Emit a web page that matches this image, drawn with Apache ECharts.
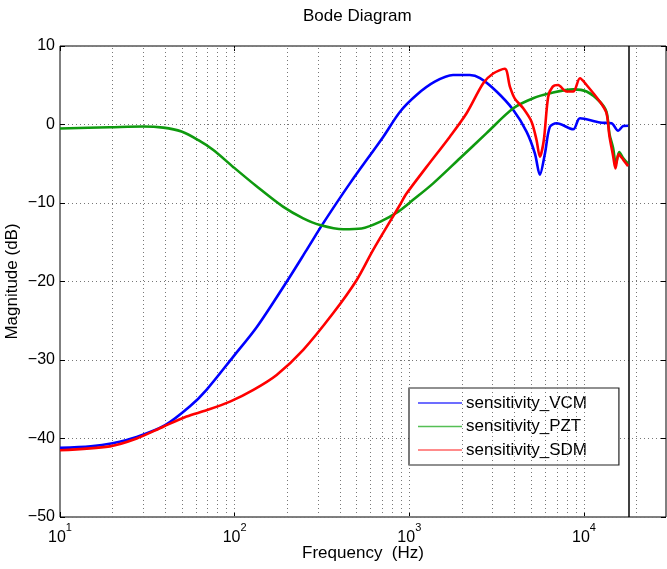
<!DOCTYPE html>
<html>
<head>
<meta charset="utf-8">
<title>Bode Diagram</title>
<script src="https://cdn.jsdelivr.net/npm/echarts@6/dist/echarts.min.js"></script>
<style>
  html, body { margin: 0; padding: 0; background: #fff; }
  #chart { width: 667px; height: 569px; }
</style>
</head>
<body>
<div id="chart"></div>
<script>
// Sensitivity magnitude responses (Hz, dB)
const freqVCM = [10, 15, 20, 27.5, 40, 55.5, 69, 98, 134, 199, 258, 321, 457, 710, 883, 1100, 1400, 1780, 2220, 2540, 3160, 3940, 4690, 5240, 5590, 5980, 6380, 6970, 8680, 9490, 12340, 14390, 15700, 16780, 17920];
const magVCM  = [-41.2, -41.0, -40.6, -39.8, -38.3, -35.9, -33.8, -29.6, -25.8, -20.0, -16.0, -12.6, -7.5, -1.55, 1.6, 3.76, 5.45, 6.3, 6.3, 5.9, 4.2, 1.85, -0.9, -3.7, -6.4, -3.7, -0.3, 0.15, -0.6, 0.8, 0.25, 0.15, -0.8, -0.2, -0.15];

const freqPZT = [10, 19.3, 30, 39, 49.6, 62, 75.5, 98, 134, 190, 247, 308, 418, 533, 679, 865, 1052, 1370, 1950, 2770, 3940, 5120, 6380, 8680, 10350, 12340, 13460, 14000, 14690, 15240, 15920, 16800, 17900];
const magPZT  = [-0.5, -0.35, -0.25, -0.4, -0.9, -2.0, -3.25, -5.4, -7.9, -10.5, -11.95, -12.8, -13.35, -13.25, -12.4, -11.1, -9.6, -7.5, -4.3, -1.1, 2.06, 3.34, 3.97, 4.48, 4.2, 2.9, 1.6, -1.2, -3.0, -5.0, -3.5, -4.3, -5.0];

const freqSDM = [10, 19.3, 27.5, 39, 53, 69, 94, 128, 174, 247, 366, 500, 620, 883, 964, 1256, 1707, 2128, 2650, 3020, 3520, 3770, 4020, 4490, 5010, 5355, 5590, 5890, 6240, 6610, 7110, 7940, 8680, 9490, 10350, 12340, 13460, 14000, 14690, 15150, 15800, 16800, 17900];
const magSDM  = [-41.5, -41.0, -40.0, -38.5, -37.2, -36.4, -35.3, -33.8, -31.9, -28.7, -24.05, -19.8, -16.0, -10.25, -8.8, -5.4, -1.55, 1.43, 5.25, 6.5, 7.1, 4.8, 3.3, 2.06, 0.36, -2.0, -4.1, -2.0, 3.54, 4.8, 5.03, 4.2, 4.2, 5.9, 5.03, 2.9, 1.43, -1.5, -4.0, -5.6, -3.8, -4.5, -5.3];

const seriesNames = ['sensitivity_VCM', 'sensitivity_PZT', 'sensitivity_SDM'];
const seriesColors = ['#0000ff', '#0f9a0f', '#ff0000'];
const legendColors = ['#3c3cff', '#55bf55', '#ff6464'];

// Frequency axis range, y range and the Nyquist marker
const xMin = 10, xMax = 29500;
const yMin = -50, yMax = 10, yStep = 10;
const nyquistHz = 18000;

// Dotted log grid: every 1..9 x 10^k inside the axis range
const gridFreqs = [];
for (let k = 1; k <= 4; k++) {
  for (let m = 1; m <= 9; m++) {
    const f = m * Math.pow(10, k);
    if (f > xMin && f < xMax) gridFreqs.push(f);
  }
}

const FONT = '"Liberation Sans", Arial, Helvetica, sans-serif';
const dotted = { color: '#777', width: 1, type: [1, 3] };
const tickStyle = { show: true, inside: true, length: 5, lineStyle: { color: '#000' } };

function pairs(xs, ys) { return xs.map((x, i) => [x, ys[i]]); }
function minus(v) { return String(v).replace('-', '\u2212'); }
function decadeLabel(v) {
  const k = Math.round(Math.log10(v));
  if (Math.abs(Math.pow(10, k) - v) > 1e-6 * v) return '';
  return '{b|10}{s|' + k + '}';
}

const chart = echarts.init(document.getElementById('chart'), null, { renderer: 'canvas' });

const lineSeries = [pairs(freqVCM, magVCM), pairs(freqPZT, magPZT), pairs(freqSDM, magSDM)].map((d, i) => ({
  name: seriesNames[i],
  type: 'line',
  data: d,
  showSymbol: false,
  smooth: 0.3,
  z: 5,
  lineStyle: { color: seriesColors[i], width: 2.6 },
  itemStyle: { color: seriesColors[i] },
  emphasis: { disabled: true }
}));

chart.setOption({
  animation: false,
  backgroundColor: '#fff',
  textStyle: { fontFamily: FONT },
  title: {
    text: 'Bode Diagram',
    left: 298,
    top: 3,
    textStyle: { fontFamily: FONT, fontSize: 17, fontWeight: 'normal', color: '#000' }
  },
  grid: {
    left: 60, right: 1, top: 46, bottom: 52,
    outerBoundsMode: 'none',
    containLabel: false,
    show: true, borderColor: '#000', borderWidth: 1, backgroundColor: '#fff'
  },
  legend: {
    data: seriesNames.map((n, i) => ({ name: n, itemStyle: { color: legendColors[i] } })),
    orient: 'vertical',
    left: 409,
    top: 388,
    padding: [5, 32, 5, 9],
    icon: 'rect',
    itemWidth: 44,
    itemHeight: 1.6,
    itemGap: 3.5,
    selectedMode: false,
    backgroundColor: '#fff',
    borderColor: '#222',
    borderWidth: 1.2,
    textStyle: { fontFamily: FONT, fontSize: 17, color: '#000', lineHeight: 20, padding: [0, 0, 0, -1] }
  },
  xAxis: [{
    type: 'log',
    logBase: 10,
    min: xMin,
    max: xMax,
    name: 'Frequency  (Hz)',
    nameLocation: 'middle',
    nameGap: 28,
    nameMoveOverlap: false,
    nameTextStyle: { fontFamily: FONT, fontSize: 17, color: '#000' },
    axisLine: { show: false, onZero: false },
    axisTick: tickStyle,
    axisLabel: {
      margin: 5,
      showMaxLabel: false,
      formatter: decadeLabel,
      rich: {
        b: { fontFamily: FONT, fontSize: 16, color: '#000', lineHeight: 24, verticalAlign: 'bottom' },
        s: { fontFamily: FONT, fontSize: 11, color: '#000', lineHeight: 24, verticalAlign: 'top' }
      }
    },
    splitLine: { show: false }
  }, {
    type: 'log',
    logBase: 10,
    min: xMin,
    max: xMax,
    position: 'top',
    axisLine: { show: false, onZero: false },
    axisTick: tickStyle,
    axisLabel: { show: false },
    splitLine: { show: false }
  }],
  yAxis: [{
    type: 'value',
    min: yMin,
    max: yMax,
    interval: yStep,
    name: 'Magnitude (dB)',
    nameLocation: 'middle',
    nameGap: 39,
    nameMoveOverlap: false,
    nameTextStyle: { fontFamily: FONT, fontSize: 17, color: '#000' },
    axisLine: { show: false, onZero: false },
    axisTick: tickStyle,
    axisLabel: { margin: 5, fontFamily: FONT, fontSize: 16, color: '#000', formatter: minus },
    splitLine: { show: true, lineStyle: dotted }
  }, {
    type: 'value',
    min: yMin,
    max: yMax,
    interval: yStep,
    position: 'right',
    axisLine: { show: false, onZero: false },
    axisTick: tickStyle,
    axisLabel: { show: false },
    splitLine: { show: false }
  }],
  series: [{
    name: 'grid',
    type: 'line',
    data: [],
    z: 1,
    silent: true,
    markLine: {
      silent: true,
      symbol: ['none', 'none'],
      label: { show: false },
      lineStyle: dotted,
      emphasis: { disabled: true },
      data: gridFreqs.map(f => ({ xAxis: f }))
    }
  }].concat(lineSeries).concat([{
    name: 'nyquist',
    type: 'line',
    data: [],
    z: 6,
    silent: true,
    markLine: {
      silent: true,
      symbol: ['none', 'none'],
      label: { show: false },
      lineStyle: { color: '#000', width: 1.5, type: 'solid' },
      emphasis: { disabled: true },
      data: [{ xAxis: nyquistHz }]
    }
  }])
});
</script>
</body>
</html>
